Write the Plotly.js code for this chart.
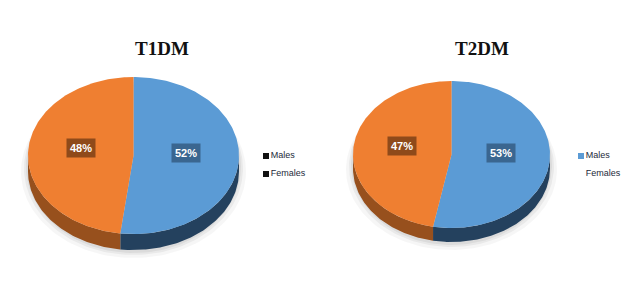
<!DOCTYPE html>
<html><head><meta charset="utf-8">
<script src="https://cdn.plot.ly/plotly-3.0.1.min.js"></script>
<style>html,body{margin:0;padding:0;background:#fff}#c{width:628px;height:304px}</style>
</head><body><div id="c"></div>
<script>
// ---- data ----
const charts = ["T1DM", "T2DM"];
const categories = ["Males", "Females"];
const t1dmValues = [52, 48];
const t2dmValues = [53, 47];

// ---- geometry / style (pixel space) ----
const geom = [
  {cx: 133.5, cy: 155.5, rx: 105.5, ry: 78.5, depth: 16, titleX: 162, legX: 266, legSq: ["#111111", "#111111"]},
  {cx: 451.5, cy: 154.5, rx: 98.5, ry: 73.5, depth: 14, titleX: 482, legX: 581, legSq: ["#5b9bd5", "rgba(0,0,0,0)"]}
];
const topColors = ["#5b9bd5", "#ef7f31"];
const sideColors = ["#24415e", "#97501d"];
const boxColors = ["#3a6690", "#8f4a1a"];
const allValues = [t1dmValues, t2dmValues];

const traces = [];
const annotations = [];
function pt(g, a, dy) {
  const r = a * Math.PI / 180;
  return [g.cx + g.rx * Math.cos(r), g.cy - g.ry * Math.sin(r) + (dy || 0)];
}
allValues.forEach((vals, k) => {
  const g = geom[k];
  const total = vals.reduce((s, v) => s + v, 0);
  // soft shadow (mostly below the pie)
  [[7, 0.035], [4, 0.05], [2, 0.06]].forEach(([grow, op]) => {
    const xs = [], ys = [];
    for (let a = 0; a <= 360; a += 2) {
      const r = a * Math.PI / 180;
      xs.push(g.cx + (g.rx + grow) * Math.cos(r));
      ys.push(g.cy + g.depth / 2 + grow + 1 - (g.ry + g.depth / 2) * Math.sin(r));
    }
    traces.push({x: xs, y: ys, mode: "lines", fill: "toself", line: {width: 0},
      fillcolor: "rgba(0,0,0," + op + ")", hoverinfo: "skip", showlegend: false});
  });
  let start = 90;
  const slices = vals.map(v => {
    const s = {a0: start, a1: start - v / total * 360};
    start = s.a1;
    return s;
  });
  // sides
  slices.forEach((s, i) => {
    const lo = Math.max(s.a1, -180), hi = Math.min(s.a0, 0);
    if (hi <= lo) return;
    const xs = [], ys = [];
    const n = Math.max(2, Math.ceil(hi - lo));
    for (let j = 0; j <= n; j++) { const p = pt(g, lo + (hi - lo) * j / n); xs.push(p[0]); ys.push(p[1]); }
    for (let j = n; j >= 0; j--) { const p = pt(g, lo + (hi - lo) * j / n, g.depth); xs.push(p[0]); ys.push(p[1]); }
    traces.push({x: xs, y: ys, mode: "lines", fill: "toself", line: {width: 0},
      fillcolor: sideColors[i], hoverinfo: "skip", showlegend: false});
  });
  // top faces
  slices.forEach((s, i) => {
    const xs = [g.cx], ys = [g.cy];
    const n = Math.ceil(s.a0 - s.a1);
    for (let j = 0; j <= n; j++) { const p = pt(g, s.a0 - (s.a0 - s.a1) * j / n); xs.push(p[0]); ys.push(p[1]); }
    xs.push(g.cx); ys.push(g.cy);
    traces.push({x: xs, y: ys, mode: "lines", fill: "toself", line: {width: 0},
      fillcolor: topColors[i], name: categories[i], hoverinfo: "name", showlegend: false});
    const mid = (s.a0 + s.a1) / 2;
    const lr = mid * Math.PI / 180;
    annotations.push({x: g.cx + 0.5 * g.rx * Math.cos(lr), y: g.cy - 5 - 0.5 * g.ry * Math.sin(lr),
      xref: "x", yref: "y", showarrow: false, text: "<b>" + Math.round(vals[i] / total * 100) + "%</b>",
      font: {family: "Liberation Sans, Arial", size: 11, color: "#ffffff"},
      bgcolor: boxColors[i], borderpad: 3});
  });
  // title
  annotations.push({x: g.titleX, y: 48, xref: "x", yref: "y", showarrow: false, text: "<b>" + charts[k] + "</b>",
    font: {family: "Liberation Serif, Times New Roman", size: 19, color: "#111111"}});
  // legend
  traces.push({x: [g.legX, g.legX], y: [156, 174], mode: "markers+text", text: categories,
    textposition: "middle right", textfont: {family: "Liberation Sans, Arial", size: 9, color: "#1c2a3a"},
    marker: {symbol: "square", size: 6, color: g.legSq}, hoverinfo: "skip", showlegend: false, cliponaxis: false});
});

const layout = {
  width: 628, height: 304, margin: {l: 0, r: 0, t: 0, b: 0},
  paper_bgcolor: "#ffffff", plot_bgcolor: "#ffffff", showlegend: false,
  xaxis: {range: [0, 628], visible: false, fixedrange: true},
  yaxis: {range: [304, 0], visible: false, fixedrange: true},
  annotations: annotations
};
Plotly.newPlot("c", traces, layout, {displayModeBar: false, staticPlot: true});
</script></body></html>
